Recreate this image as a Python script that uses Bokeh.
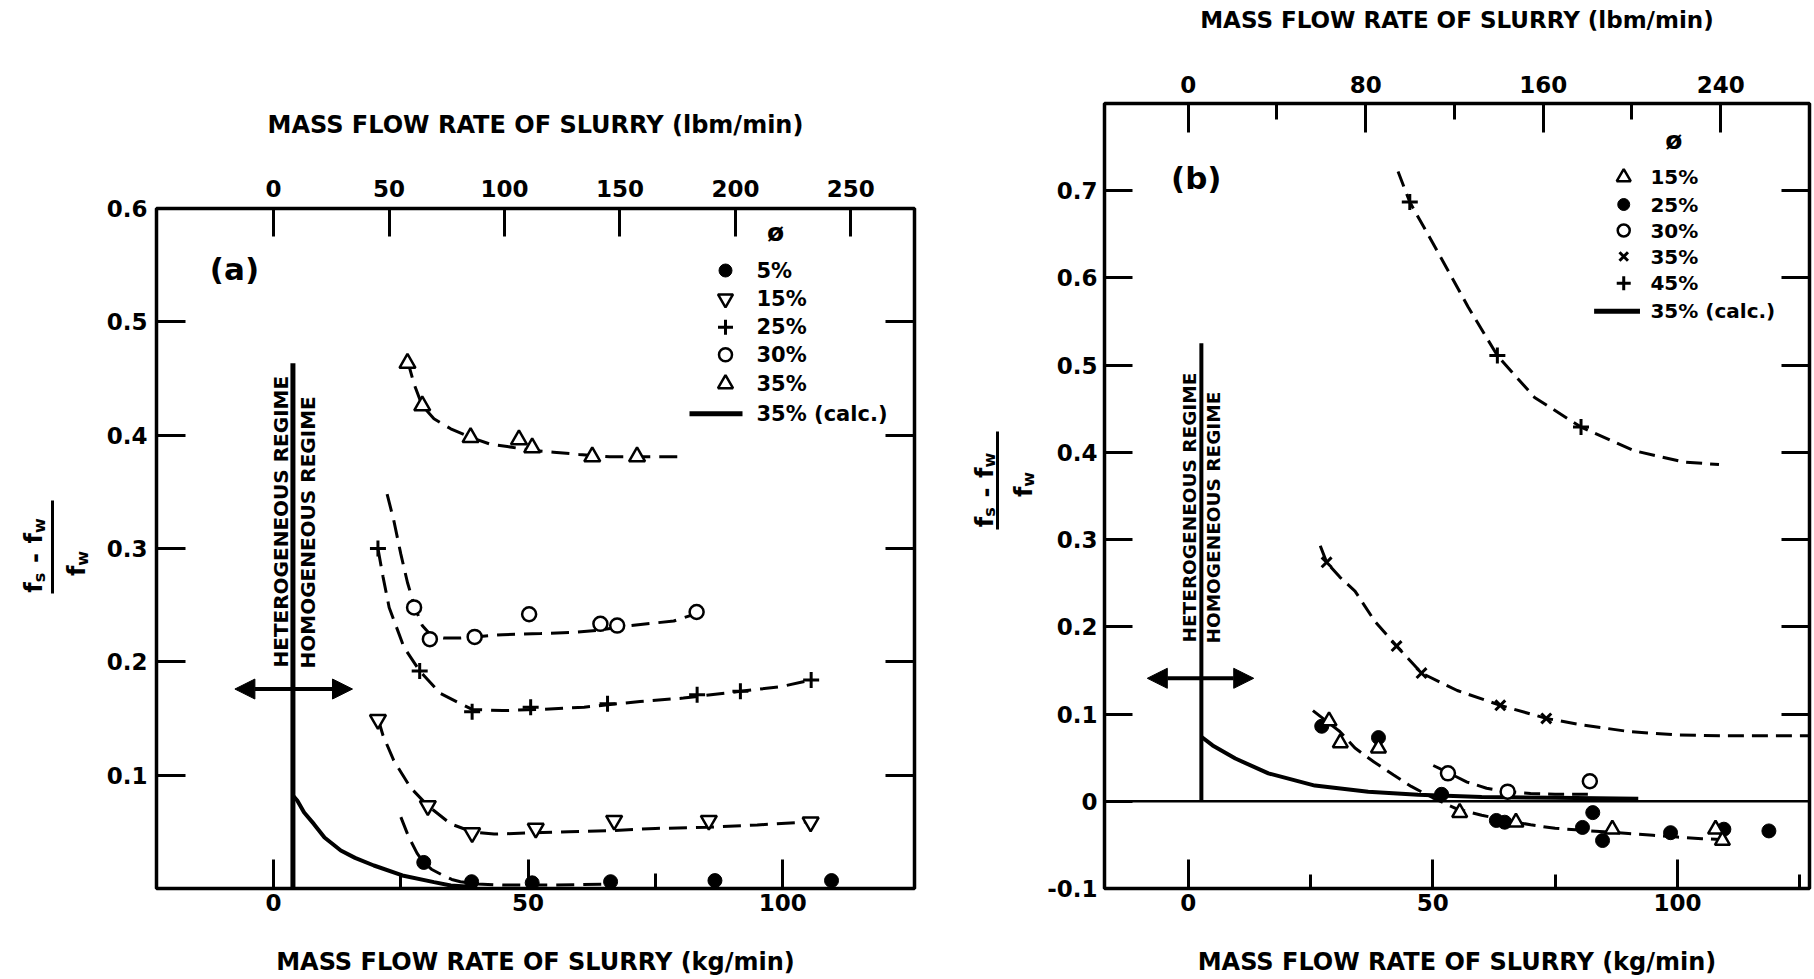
from math import pi
from bokeh.plotting import figure
from bokeh.models import Range1d, LinearAxis, FixedTicker, Label, Arrow, NormalHead, Span, Spacer
from bokeh.layouts import row, column
from bokeh.core.properties import value
from bokeh.embed import file_html
from bokeh.resources import INLINE

KG_TO_LBM = 2.2046

# ================= panel (a) data: x = kg/min, y = (fs - fw)/fw =================
a_x_5 = [29.5, 38.9, 50.8, 66.2, 86.7, 109.6]
a_y_5 = [0.023, 0.006, 0.005, 0.006, 0.007, 0.007]
a_x_15 = [20.5, 30.3, 39.0, 51.5, 66.9, 85.5, 105.5]
a_y_15 = [0.149, 0.073, 0.049, 0.053, 0.060, 0.060, 0.0585]
a_x_25 = [20.5, 28.7, 39.0, 50.5, 65.6, 83.2, 91.7, 105.6]
a_y_25 = [0.300, 0.192, 0.156, 0.160, 0.163, 0.171, 0.174, 0.184]
a_x_30 = [27.6, 30.7, 39.5, 50.2, 64.2, 67.5, 83.1]
a_y_30 = [0.248, 0.220, 0.222, 0.242, 0.2335, 0.232, 0.244]
a_x_35 = [26.3, 29.2, 38.7, 48.2, 50.8, 62.6, 71.4]
a_y_35 = [0.4635, 0.426, 0.398, 0.396, 0.389, 0.381, 0.381]

a_fit5_x = [25.0, 26.5, 28.2, 29.5, 31.0, 33.1, 35.0, 36.7, 40.0, 45.0, 55.0, 67.0]
a_fit5_y = [0.063, 0.046, 0.031, 0.023, 0.017, 0.012, 0.008, 0.006, 0.004, 0.003, 0.003, 0.004]
a_fit15_x = [20.5, 21.5, 23.6, 26.9, 30.3, 34.8, 39.0, 43.3, 50.0, 58.0, 66.0, 75.0, 85.0, 95.0, 105.5]
a_fit15_y = [0.150, 0.135, 0.113, 0.089, 0.073, 0.057, 0.050, 0.048, 0.049, 0.050, 0.051, 0.053, 0.054, 0.056, 0.059]
a_fit25_x = [20.5, 21.5, 22.7, 25.6, 28.7, 32.8, 39.0, 45.0, 52.5, 61.0, 72.0, 80.5, 91.7, 99.6, 105.6]
a_fit25_y = [0.300, 0.275, 0.248, 0.213, 0.192, 0.172, 0.158, 0.157, 0.158, 0.160, 0.165, 0.168, 0.174, 0.178, 0.184]
a_fit30_x = [22.3, 23.6, 25.0, 26.3, 27.6, 29.2, 31.0, 33.4, 36.7, 39.5, 45.0, 52.5, 59.0, 64.0, 70.0, 78.6, 82.0]
a_fit30_y = [0.348, 0.325, 0.295, 0.270, 0.250, 0.232, 0.223, 0.221, 0.221, 0.222, 0.224, 0.225, 0.226, 0.228, 0.232, 0.236, 0.241]
a_fit35_x = [26.3, 27.6, 29.2, 31.5, 34.8, 38.7, 42.6, 45.9, 50.0, 55.0, 60.0, 66.0, 72.0, 80.6]
a_fit35_y = [0.466, 0.445, 0.426, 0.4145, 0.4056, 0.398, 0.392, 0.390, 0.387, 0.385, 0.383, 0.381, 0.381, 0.381]
a_calc_x = [3.8, 4.65, 6.0, 7.9, 10.0, 13.2, 16.0, 19.7, 25.3, 31.5, 34.8, 40.0]
a_calc_y = [0.082, 0.0776, 0.067, 0.057, 0.045, 0.0335, 0.027, 0.0203, 0.0115, 0.0056, 0.0026, 0.001]

a_regime_x = 3.8
a_regime_top = 0.4635
a_arrow = (-7.6, 15.5, 0.176)   # x_start, x_end, y

a_legend = ["5%", "15%", "25%", "30%", "35%", "35% (calc.)"]
a_bottom_ticks = [0, 50, 100]
a_bottom_minor = [25, 75]
a_top_ticks = [0, 50, 100, 150, 200, 250]
a_y_ticks = [0.1, 0.2, 0.3, 0.4, 0.5, 0.6]
a_y_labels = ["0.1", "0.2", "0.3", "0.4", "0.5", "0.6"]

# ================= panel (b) data =================
b_x_15 = [28.8, 31.1, 38.9, 55.5, 67.0, 86.7, 107.8, 109.2]
b_y_15 = [0.092, 0.067, 0.061, -0.013, -0.024, -0.032, -0.032, -0.045]
b_x_25 = [27.3, 38.9, 51.8, 63.0, 64.7, 80.6, 82.7, 84.7, 98.6, 109.5, 118.7]
b_y_25 = [0.086, 0.073, 0.008, -0.022, -0.024, -0.030, -0.013, -0.045, -0.036, -0.032, -0.034]
b_x_30 = [53.1, 65.3, 82.1]
b_y_30 = [0.032, 0.011, 0.023]
b_x_35 = [28.3, 42.6, 47.7, 63.8, 73.2]
b_y_35 = [0.274, 0.178, 0.147, 0.110, 0.095]
b_x_45 = [45.3, 63.2, 80.3]
b_y_45 = [0.687, 0.511, 0.429]

b_fit15_x = [25.5, 28.0, 31.0, 34.1, 38.0, 42.0, 45.6, 50.0, 55.0, 60.0, 65.0, 70.0, 75.0, 80.0, 85.0, 90.0, 95.0, 100.0, 105.0, 110.0]
b_fit15_y = [0.104, 0.093, 0.080, 0.061, 0.045, 0.030, 0.017, 0.004, -0.009, -0.016, -0.022, -0.027, -0.031, -0.033, -0.035, -0.037, -0.039, -0.041, -0.043, -0.044]
b_fit30_x = [50.1, 53.1, 57.0, 61.0, 65.3, 70.0, 75.0, 81.7]
b_fit30_y = [0.041, 0.033, 0.022, 0.015, 0.011, 0.009, 0.008, 0.008]
b_fit35_x = [27.0, 28.3, 31.0, 34.1, 38.2, 42.6, 47.7, 55.0, 63.8, 73.2, 80.0, 90.0, 100.0, 110.0, 127.0]
b_fit35_y = [0.293, 0.274, 0.257, 0.241, 0.206, 0.178, 0.147, 0.127, 0.110, 0.095, 0.088, 0.080, 0.076, 0.075, 0.075]
b_fit45_x = [42.9, 45.3, 50.4, 57.2, 63.2, 70.8, 80.3, 91.1, 101.3, 108.5]
b_fit45_y = [0.722, 0.687, 0.636, 0.567, 0.511, 0.463, 0.429, 0.402, 0.389, 0.386]
b_calc_x = [2.7, 5.0, 9.65, 16.4, 25.9, 36.8, 47.0, 60.0, 75.0, 92.0]
b_calc_y = [0.074, 0.064, 0.049, 0.032, 0.018, 0.011, 0.0075, 0.005, 0.004, 0.003]

b_regime_x = 2.7
b_regime_top = 0.525
b_arrow = (-8.35, 13.4, 0.141)

b_legend = ["15%", "25%", "30%", "35%", "45%", "35% (calc.)"]
b_bottom_ticks = [0, 50, 100]
b_bottom_minor = [25, 75, 125]
b_top_ticks = [0, 80, 160, 240]
b_top_minor = [40, 120, 200]
b_y_ticks = [-0.1, 0.0, 0.1, 0.2, 0.3, 0.4, 0.5, 0.6, 0.7]
b_y_labels = ["-0.1", "0", "0.1", "0.2", "0.3", "0.4", "0.5", "0.6", "0.7"]
b_right_ticks = [0.1, 0.2, 0.3, 0.4, 0.5, 0.6, 0.7]

# ================= layout / style =================
FONT = "DejaVu Sans"
PAGE_H = 978
TOP_B, BOT_B = 103, 90
A_XRANGE = (-23.0, 125.9)
A_YRANGE = (0.0, 0.6)
B_XRANGE = (-17.1, 127.0)
B_YRANGE = (-0.1, 0.8)
A_FRAME = (156, 914, 208, 888)     # page px: left, right, top, bottom
B_FRAME = (1102, 1809, 103, 888)


def mapper(frame, xr, yr):
    l, r, t, b = frame

    def f(px, py):
        return (xr[0] + (px - l) * (xr[1] - xr[0]) / (r - l),
                yr[1] - (py - t) * (yr[1] - yr[0]) / (b - t))
    return f


def style_axis(ax, size, major_in, minor_in, standoff):
    ax.axis_line_color = None
    ax.major_tick_in = major_in
    ax.major_tick_out = 0
    ax.minor_tick_in = minor_in
    ax.minor_tick_out = 0
    ax.major_tick_line_width = 3
    ax.minor_tick_line_width = 3
    ax.major_tick_line_color = "black"
    ax.minor_tick_line_color = "black"
    ax.major_label_text_font = FONT
    ax.major_label_text_font_style = "bold"
    ax.major_label_text_font_size = size
    ax.major_label_text_color = "black"
    ax.major_label_standoff = int(standoff)


def style_title(ax, size, standoff):
    ax.axis_label_text_font = FONT
    ax.axis_label_text_font_style = "bold"
    ax.axis_label_text_font_size = size
    ax.axis_label_text_color = "black"
    ax.axis_label_standoff = int(standoff)


def make_fig(width, height, xr, yr, borders):
    p = figure(width=width, height=height, x_range=Range1d(*xr), y_range=Range1d(*yr),
               output_backend="svg", toolbar_location=None,
               min_border_left=borders[0], min_border_right=borders[1],
               min_border_top=borders[2], min_border_bottom=borders[3])
    p.grid.visible = False
    p.outline_line_color = "black"
    p.outline_line_width = 3.5
    p.background_fill_color = "white"
    p.border_fill_color = "white"
    return p


def label(p, x, y, text, size, angle=0.0, align="center", baseline="middle", style="bold"):
    p.add_layout(Label(x=x, y=y, text=text, text_font=FONT, text_font_size=size,
                       text_font_style=style, text_color="black", angle=angle,
                       text_align=align, text_baseline=baseline))


def fraction_fig(x0, x1, num_top_x, num_cy, bar_x, bar_y0, bar_y1, den_top_x, den_cy, main, sub, sub_shift):
    """Small side figure holding the rotated y-axis title (f_s - f_w) / f_w, in page pixels."""
    f = figure(width=x1 - x0, height=PAGE_H, x_range=Range1d(x0, x1),
               y_range=Range1d(BOT_B, PAGE_H - TOP_B), output_backend="svg", toolbar_location=None,
               x_axis_location=None, y_axis_location=None,
               min_border_left=0, min_border_right=0, min_border_top=TOP_B, min_border_bottom=BOT_B)
    f.grid.visible = False
    f.outline_line_color = None
    w = {"f": 0.435, "s": 0.595, "w": 0.924, "-": 0.415}
    gap = 0.40 * main

    def pieces(items, top_x, cy):
        total = sum(w[t] * sz + pre for t, sz, _, pre in items)
        y = cy + total / 2.0
        base = top_x + 0.76 * main
        for t, sz, shift, pre in items:
            y -= pre
            f.text([base + shift], [PAGE_H - y], text=[t], angle=pi / 2, text_align="left",
                   text_baseline="alphabetic", text_font=value(FONT), text_font_style="bold",
                   text_font_size=f"{sz}px", text_color="black")
            y -= w[t] * sz

    pieces([("f", main, 0, 0), ("s", sub, sub_shift, 0), ("-", main, 0, gap), ("f", main, 0, gap),
            ("w", sub, sub_shift, 0)], num_top_x, num_cy)
    pieces([("f", main, 0, 0), ("w", sub, sub_shift, 0)], den_top_x, den_cy)
    f.line([bar_x, bar_x], [PAGE_H - bar_y0, PAGE_H - bar_y1], line_width=3, line_color="black")
    return f


def markers(p, kind, x, y, size):
    if kind == "filled":
        p.scatter(x, y, marker="circle", size=size, fill_color="black", line_color="black")
    elif kind == "open":
        p.scatter(x, y, marker="circle", size=size, fill_color="white", line_color="black", line_width=2.5)
    elif kind == "tri":
        p.scatter(x, y, marker="triangle", size=size + 2, fill_color="white", line_color="black", line_width=2.5)
    elif kind == "itri":
        p.scatter(x, y, marker="inverted_triangle", size=size + 2, fill_color="white", line_color="black", line_width=2.5)
    elif kind == "plus":
        p.scatter(x, y, marker="cross", size=size + 2, line_color="black", line_width=3)
    elif kind == "x":
        p.scatter(x, y, marker="x", size=size, line_color="black", line_width=3)


def legend(p, m, kinds, texts, mx, rows, line_x0, line_x1, text_x, phi_xy, size, fsize):
    for kind, ry in zip(kinds, rows[:-1]):
        x, y = m(mx, ry)
        markers(p, kind, [x], [y], size)
    lx0, ly = m(line_x0, rows[-1])
    lx1, _ = m(line_x1, rows[-1])
    p.line([lx0, lx1], [ly, ly], line_width=5, line_color="black")
    for t, ry in zip(texts, rows):
        x, y = m(text_x, ry)
        label(p, x, y, t, fsize, align="left", baseline="middle")
    x, y = m(*phi_xy)
    label(p, x, y, "ø", "25px")


def regime(p, m, rx, rtop, arrow, het_xy, hom_xy, tsize, lw):
    p.line([rx, rx], [0, rtop], line_width=lw, line_color="black")
    x0, x1, ay = arrow
    p.add_layout(Arrow(x_start=x0, y_start=ay, x_end=x1, y_end=ay, line_width=4, line_color="black",
                       start=NormalHead(size=20, fill_color="black", line_color="black"),
                       end=NormalHead(size=20, fill_color="black", line_color="black")))
    x, y = m(*het_xy)
    label(p, x, y, "HETEROGENEOUS REGIME", tsize, angle=pi / 2, align="left", baseline="middle")
    x, y = m(*hom_xy)
    label(p, x, y, "HOMOGENEOUS REGIME", tsize, angle=pi / 2, align="left", baseline="middle")


DASH = "18 9"

# ================= panel (a) =================
ma = mapper(A_FRAME, A_XRANGE, A_YRANGE)
A_LEFT = 101
A_W = 835
p1 = make_fig(A_W, TOP_B + 680 + BOT_B, A_XRANGE, A_YRANGE, (A_FRAME[0] - A_LEFT, 22, TOP_B, BOT_B))

bx = p1.xaxis[0]
bx.ticker = FixedTicker(ticks=a_bottom_ticks, minor_ticks=a_bottom_minor)
style_axis(bx, "23px", 29, 15, 5)
bx.axis_label = "MASS FLOW RATE OF SLURRY (kg/min)"
style_title(bx, "24px", 34)

ly = p1.yaxis[0]
ly.ticker = FixedTicker(ticks=a_y_ticks, minor_ticks=[])
ly.major_label_overrides = dict(zip(a_y_ticks, a_y_labels))
style_axis(ly, "23px", 29, 0, 9)

p1.extra_x_ranges = {"lbm": Range1d(A_XRANGE[0] * KG_TO_LBM, A_XRANGE[1] * KG_TO_LBM)}
tx = LinearAxis(x_range_name="lbm", ticker=FixedTicker(ticks=a_top_ticks, minor_ticks=[]))
style_axis(tx, "23px", 28, 0, 12)
tx.axis_label = "MASS FLOW RATE OF SLURRY (lbm/min)"
style_title(tx, "24px", 38)
p1.add_layout(tx, "above")

ry = LinearAxis(ticker=FixedTicker(ticks=a_y_ticks[:-1], minor_ticks=[]))
ry.major_label_overrides = {t: "" for t in a_y_ticks[:-1]}
style_axis(ry, "23px", 29, 0, 0)
p1.add_layout(ry, "right")

for fx, fy in [(a_fit5_x, a_fit5_y), (a_fit15_x, a_fit15_y), (a_fit25_x, a_fit25_y),
               (a_fit30_x, a_fit30_y), (a_fit35_x, a_fit35_y)]:
    p1.line(fx, fy, line_width=3, line_dash=DASH, line_color="black")
p1.line(a_calc_x, a_calc_y, line_width=4, line_color="black")
regime(p1, ma, a_regime_x, a_regime_top, a_arrow, (280, 667), (307.5, 668), "20px", 5)

markers(p1, "filled", a_x_5, a_y_5, 14)
markers(p1, "itri", a_x_15, a_y_15, 14)
markers(p1, "plus", a_x_25, a_y_25, 14)
markers(p1, "open", a_x_30, a_y_30, 14)
markers(p1, "tri", a_x_35, a_y_35, 14)

legend(p1, ma, ["filled", "itri", "plus", "open", "tri"], a_legend, 725,
       [270, 298.3, 326.7, 354.3, 383.3, 413.3], 689, 742, 756, (775, 232), 13, "21px")
x, y = ma(234, 268)
label(p1, x, y, "(a)", "31px")

fa = fraction_fig(0, A_LEFT, 15, 555, 52, 500, 593, 58, 563, 24, 16, 6)
col_a = column(Spacer(width=A_W, height=A_FRAME[2] - TOP_B), p1)

# ================= panel (b) =================
mb = mapper(B_FRAME, B_XRANGE, B_YRANGE)
B_LEFT = 1044
p2 = make_fig(1814 - B_LEFT, PAGE_H, B_XRANGE, B_YRANGE, (B_FRAME[0] - B_LEFT, 5, TOP_B, BOT_B))

bx2 = p2.xaxis[0]
bx2.ticker = FixedTicker(ticks=b_bottom_ticks, minor_ticks=b_bottom_minor)
style_axis(bx2, "23px", 29, 14, 5)
bx2.axis_label = "MASS FLOW RATE OF SLURRY (kg/min)"
style_title(bx2, "24px", 34)

ly2 = p2.yaxis[0]
ly2.ticker = FixedTicker(ticks=b_y_ticks, minor_ticks=[])
ly2.major_label_overrides = dict(zip(b_y_ticks, b_y_labels))
style_axis(ly2, "23px", 28, 0, 7)

p2.extra_x_ranges = {"lbm": Range1d(B_XRANGE[0] * KG_TO_LBM, B_XRANGE[1] * KG_TO_LBM)}
tx2 = LinearAxis(x_range_name="lbm", ticker=FixedTicker(ticks=b_top_ticks, minor_ticks=b_top_minor))
style_axis(tx2, "23px", 29, 16, 11)
tx2.axis_label = "MASS FLOW RATE OF SLURRY (lbm/min)"
style_title(tx2, "23px", 40)
p2.add_layout(tx2, "above")

ry2 = LinearAxis(ticker=FixedTicker(ticks=b_right_ticks, minor_ticks=[]))
ry2.major_label_overrides = {t: "" for t in b_right_ticks}
style_axis(ry2, "23px", 28, 0, 0)
p2.add_layout(ry2, "right")

p2.add_layout(Span(location=0, dimension="width", line_width=2.5, line_color="black"))

for fx, fy in [(b_fit15_x, b_fit15_y), (b_fit30_x, b_fit30_y), (b_fit35_x, b_fit35_y), (b_fit45_x, b_fit45_y)]:
    p2.line(fx, fy, line_width=3, line_dash="16 8", line_color="black")
p2.line(b_calc_x, b_calc_y, line_width=4, line_color="black")
regime(p2, mb, b_regime_x, b_regime_top, b_arrow, (1187, 642), (1211.5, 643), "18.5px", 4)

markers(p2, "filled", b_x_25, b_y_25, 14)
markers(p2, "tri", b_x_15, b_y_15, 13)
markers(p2, "open", b_x_30, b_y_30, 14)
markers(p2, "x", b_x_35, b_y_35, 14)
markers(p2, "plus", b_x_45, b_y_45, 14)

legend(p2, mb, ["tri", "filled", "open", "x", "plus"], b_legend, 1622.7,
       [176.7, 204, 230, 256, 282.7, 310.7], 1593, 1639, 1649.5, (1673, 140), 12, "20px")
x, y = mb(1194, 177.5)
label(p2, x, y, "(b)", "31px")

fb = fraction_fig(A_LEFT + A_W, B_LEFT, 966, 489.5, 997, 431, 529, 1005, 484, 24, 16, 5)

layout = row(fa, col_a, fb, p2)
open("out.html", "w").write(file_html(layout, INLINE))
